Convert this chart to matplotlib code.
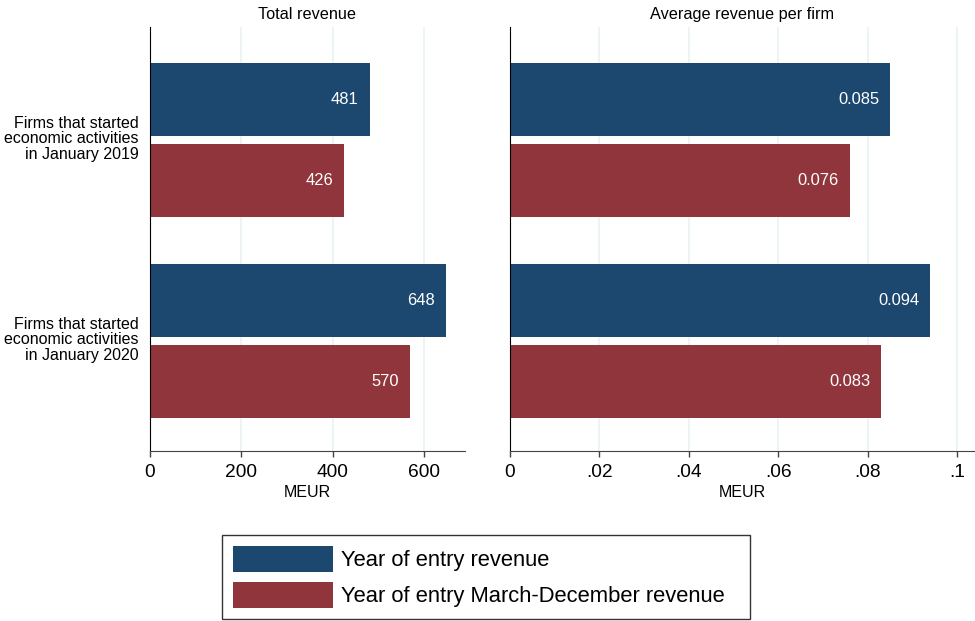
import matplotlib
matplotlib.use("Agg")
import matplotlib.pyplot as plt  # noqa: E402
from matplotlib.patches import Patch  # noqa: E402
from matplotlib.transforms import ScaledTranslation  # noqa: E402

plt.rcParams["font.family"] = ["Liberation Sans", "DejaVu Sans"]

# data
groups = [
    "Firms that started\neconomic activities\nin January 2019",
    "Firms that started\neconomic activities\nin January 2020",
]
series = ["Year of entry revenue", "Year of entry March-December revenue"]
total_rev = [[481, 648], [426, 570]]  # per series, per group
avg_rev = [[0.085, 0.094], [0.076, 0.083]]
total_ticks = [0, 200, 400, 600]
total_ticklabels = ["0", "200", "400", "600"]
avg_ticks = [0, 0.02, 0.04, 0.06, 0.08, 0.1]
avg_ticklabels = ["0", ".02", ".04", ".06", ".08", ".1"]

colors = ["#1c476f", "#90353b"]
grid_col = "#eaf2f3"

W, H = 975, 621
fig = plt.figure(figsize=(W / 100, H / 100), dpi=100)


def box(x0, x1, y0=27, y1=451):
    return [x0 / W, 1 - y1 / H, (x1 - x0) / W, (y1 - y0) / H]


ax1 = fig.add_axes(box(150, 465))
ax2 = fig.add_axes(box(510, 975))

offsets = [-0.2, 0.2]
height = 0.363


def draw(ax, vals, fmt, xlim, ticks, ticklabels, title):
    for k, v in enumerate(vals):
        ys = [g + offsets[k] for g in range(len(groups))]
        ax.barh(ys, v, height=height, color=colors[k], zorder=2)
        for y, x in zip(ys, v):
            ax.annotate(fmt(x), (x, y), xytext=(-11, 0), textcoords="offset pixels",
                        ha="right", va="center", color="white", fontsize=11.9, zorder=3)
    ax.set_xlim(*xlim)
    ax.set_ylim(1.547, -0.562)
    ax.set_xticks(ticks)
    ax.set_xticklabels(ticklabels)
    for t in ticks[1:]:
        ax.axvline(t, color=grid_col, lw=1.2, zorder=1)
    ax.tick_params(axis="x", labelsize=13.8, length=4.5, width=1, color="#444444", pad=5)
    ax.tick_params(axis="y", length=0, pad=8)
    ax.spines["top"].set_visible(False)
    ax.spines["right"].set_visible(False)
    ax.spines["left"].set_color("black")
    ax.spines["bottom"].set_color("#444444")
    ax.set_xlabel("MEUR", fontsize=11.5, labelpad=3)
    ax.set_title(title, fontsize=11.7, pad=6)


draw(ax1, total_rev, lambda x: f"{x:d}", (0, 690), total_ticks, total_ticklabels, "Total revenue")
ax1.set_yticks(range(len(groups)))
ax1.set_yticklabels(groups, fontsize=11.5, linespacing=1.03)
for lbl in ax1.get_yticklabels():
    lbl.set_transform(lbl.get_transform() + ScaledTranslation(0, 0.03, fig.dpi_scale_trans))

draw(ax2, avg_rev, lambda x: f"{x:.3f}", (0, 0.104), avg_ticks, avg_ticklabels, "Average revenue per firm")
ax2.set_yticks([])

handles = [Patch(facecolor=c, edgecolor="none") for c in colors]
leg = fig.legend(handles, series, loc="upper left",
                 bbox_to_anchor=(222 / W, 1 - 535 / H, (750 - 222) / W, 0.0), mode="expand",
                 fontsize=15.8, frameon=True, fancybox=False, edgecolor="black",
                 handlelength=4.54, handleheight=1.46, handletextpad=0.37,
                 labelspacing=0.45, borderpad=0.5, borderaxespad=0)
leg.get_frame().set_linewidth(1.0)

fig.savefig("out.png", dpi=100)
